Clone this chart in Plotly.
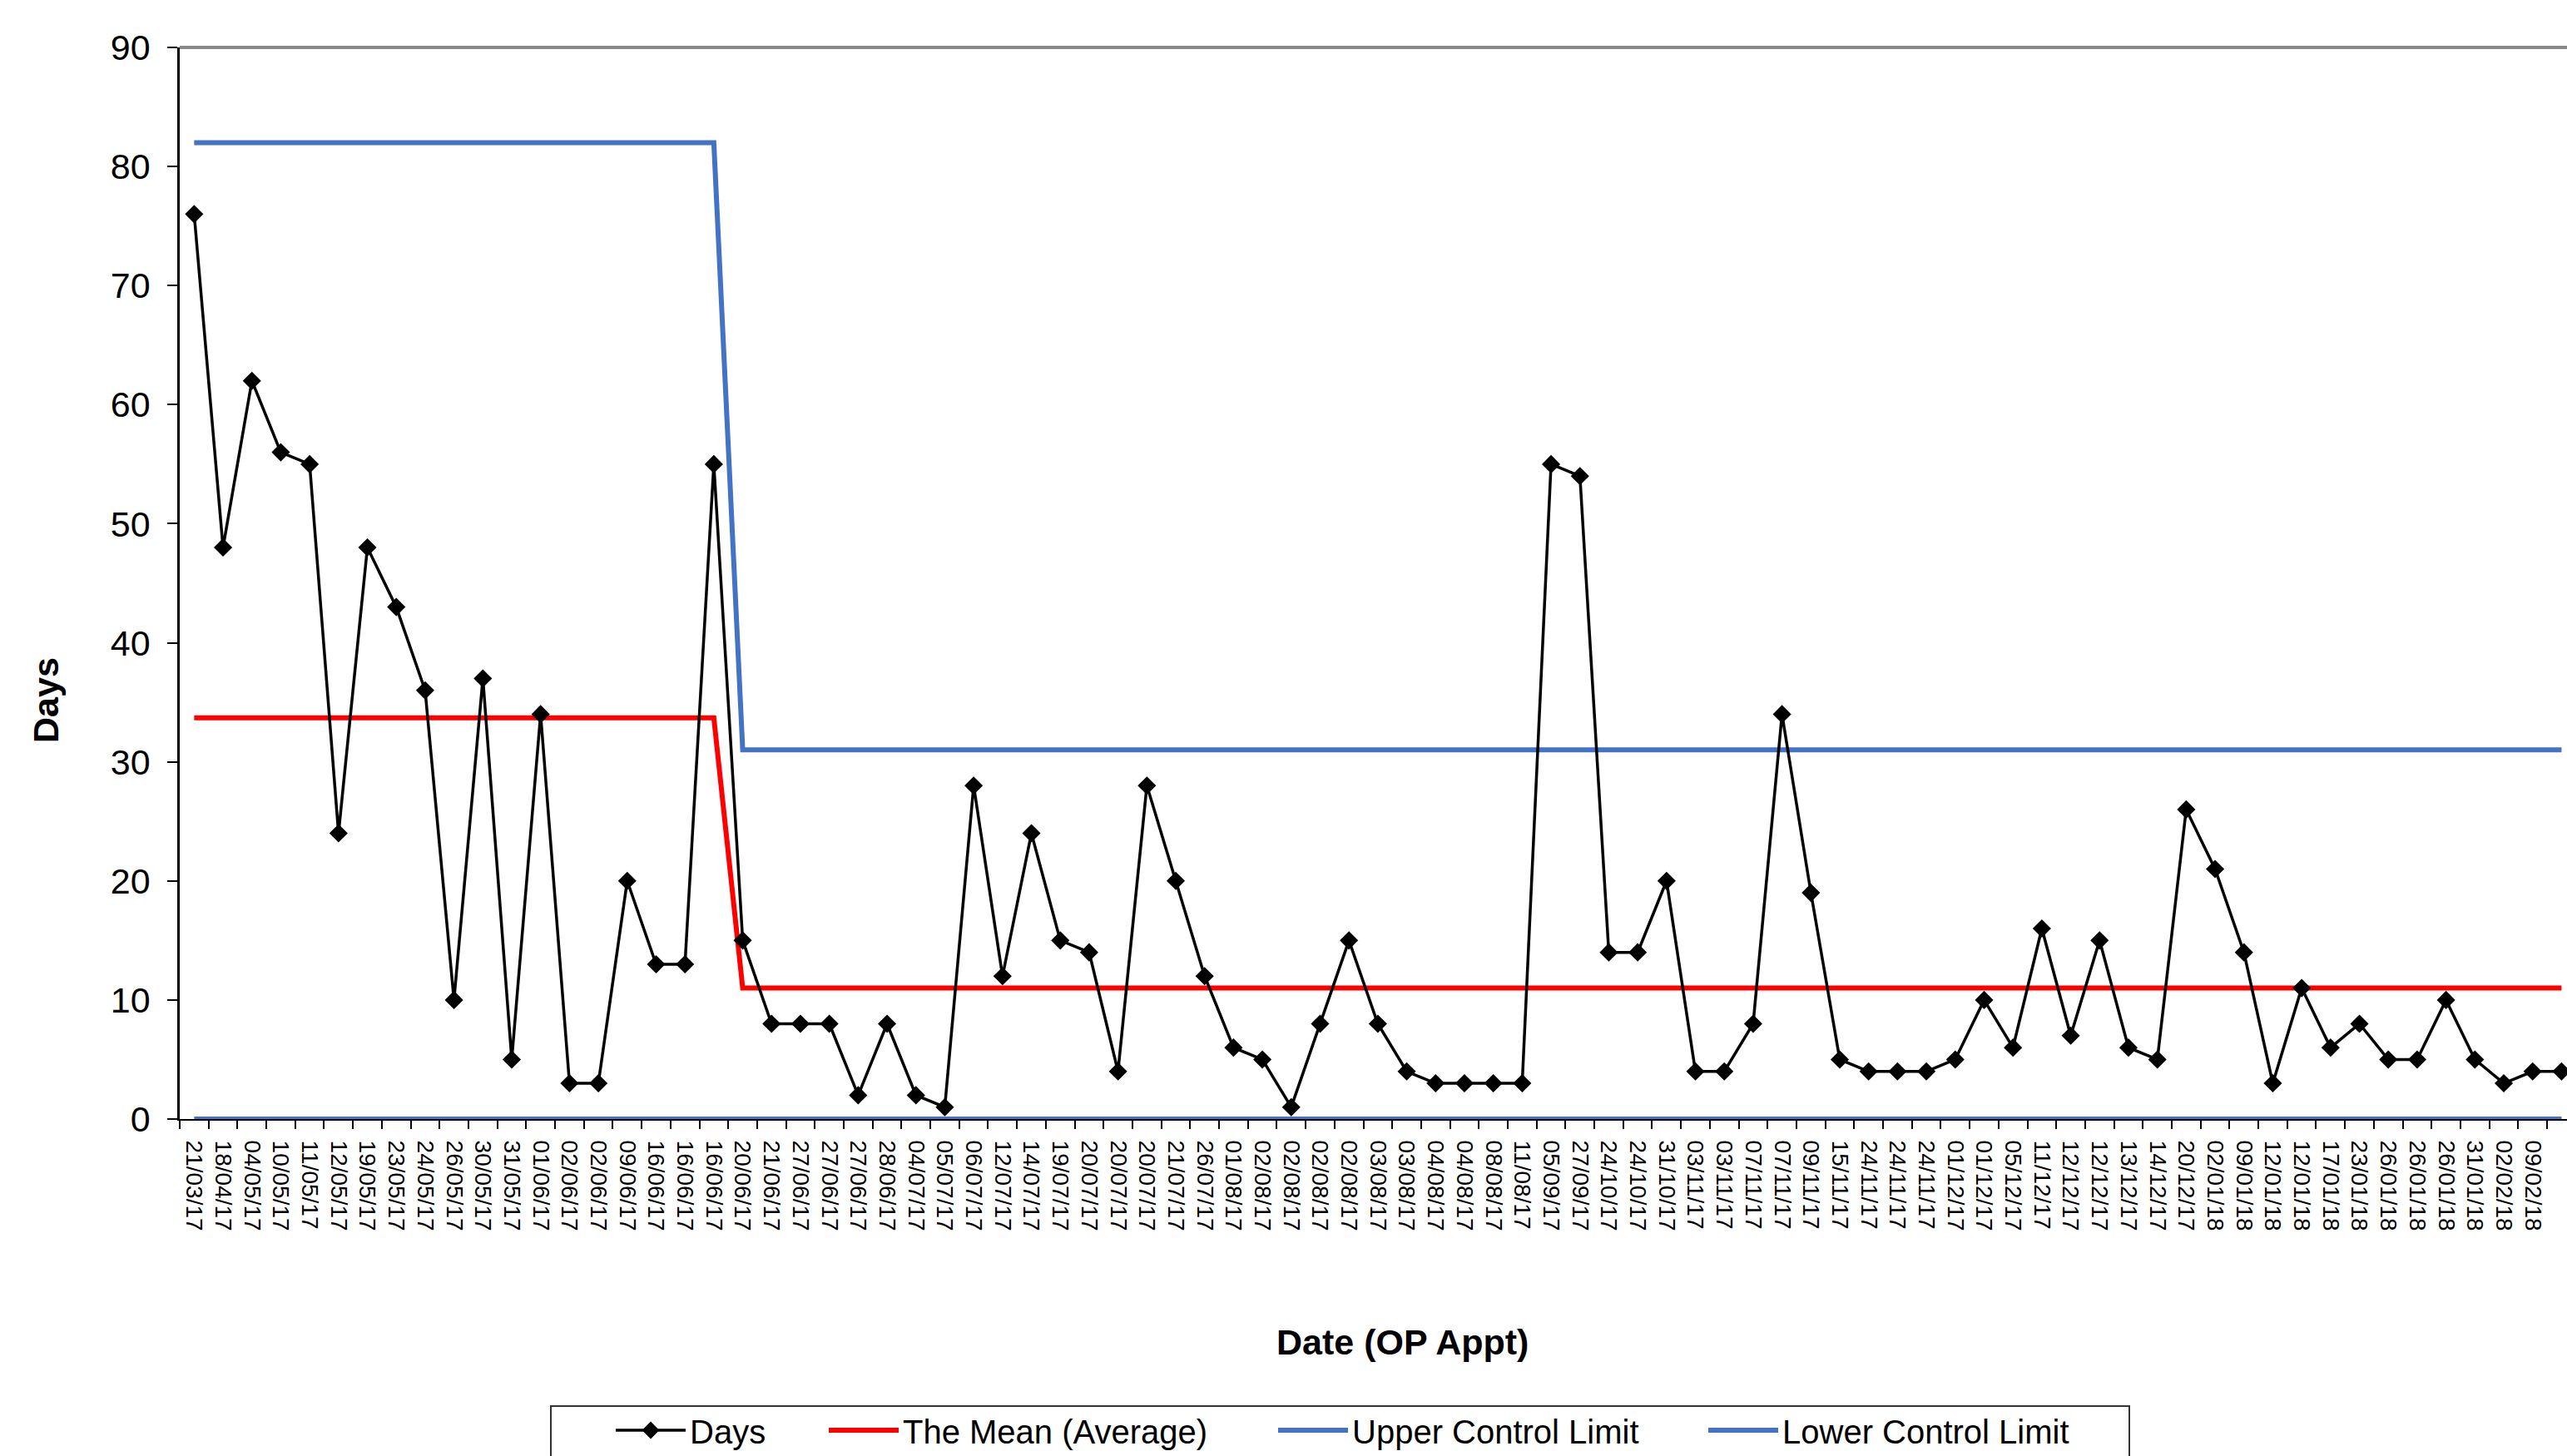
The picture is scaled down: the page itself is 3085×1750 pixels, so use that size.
import plotly.graph_objects as go

# ---- data ----
dates = ["21/03/17", "18/04/17", "04/05/17", "10/05/17", "11/05/17", "12/05/17", "19/05/17",
         "23/05/17", "24/05/17", "26/05/17", "30/05/17", "31/05/17", "01/06/17", "02/06/17",
         "02/06/17", "09/06/17", "16/06/17", "16/06/17", "16/06/17", "20/06/17", "21/06/17",
         "27/06/17", "27/06/17", "27/06/17", "28/06/17", "04/07/17", "05/07/17", "06/07/17",
         "12/07/17", "14/07/17", "19/07/17", "20/07/17", "20/07/17", "20/07/17", "21/07/17",
         "26/07/17", "01/08/17", "02/08/17", "02/08/17", "02/08/17", "02/08/17", "03/08/17",
         "03/08/17", "04/08/17", "04/08/17", "08/08/17", "11/08/17", "05/09/17", "27/09/17",
         "24/10/17", "24/10/17", "31/10/17", "03/11/17", "03/11/17", "07/11/17", "07/11/17",
         "09/11/17", "15/11/17", "24/11/17", "24/11/17", "24/11/17", "01/12/17", "01/12/17",
         "05/12/17", "11/12/17", "12/12/17", "12/12/17", "13/12/17", "14/12/17", "20/12/17",
         "02/01/18", "09/01/18", "12/01/18", "12/01/18", "17/01/18", "23/01/18", "26/01/18",
         "26/01/18", "26/01/18", "31/01/18", "02/02/18", "09/02/18", "09/02/18"]

days = [76, 48, 62, 56, 55, 24, 48, 43, 36, 10, 37, 5, 34, 3, 3, 20, 13, 13, 55,
        15, 8, 8, 8, 2, 8, 2, 1, 28, 12, 24, 15, 14, 4, 28, 20, 12, 6, 5, 1, 8,
        15, 8, 4, 3, 3, 3, 3, 55, 54, 14, 14, 20, 4, 4, 8, 34, 19, 5, 4, 4, 4,
        5, 10, 6, 16, 7, 15, 6, 5, 26, 21, 14, 3, 11, 6, 8, 5, 5, 10, 5, 3, 4, 4]

# control-chart phases (phase 1: first 19 points, phase 2: the rest)
phase_lengths = [19, 64]
mean_levels = [33.7, 11.0]
ucl_levels = [82.0, 31.0]
lcl_levels = [0.0, 0.0]

mean_vals, ucl_vals, lcl_vals = [], [], []
for n, m, u, l in zip(phase_lengths, mean_levels, ucl_levels, lcl_levels):
    mean_vals += [m] * n
    ucl_vals += [u] * n
    lcl_vals += [l] * n

idx = list(range(len(days)))

# ---- layout geometry (pixels of the 3085x1750 page) ----
W, H = 3085, 1750
L, R, T, B = 216, 0, 57, 405
PW, PH = W - L - R, H - T - B


def px_x(x):
    return (x - L) / PW


def px_y(y):
    return (H - B - y) / PH


FONT = "Arial, Liberation Sans, sans-serif"
BLUE = "#4472C4"

fig = go.Figure()
fig.add_trace(go.Scatter(x=idx, y=ucl_vals, mode="lines", name="Upper Control Limit",
                         line=dict(color=BLUE, width=6), legend="legend3"))
fig.add_trace(go.Scatter(x=idx, y=lcl_vals, mode="lines", name="Lower Control Limit",
                         line=dict(color=BLUE, width=6), legend="legend4"))
fig.add_trace(go.Scatter(x=idx, y=mean_vals, mode="lines", name="The Mean (Average)",
                         line=dict(color="#FF0000", width=6), legend="legend2"))
fig.add_trace(go.Scatter(x=idx, y=days, mode="lines+markers", name="Days",
                         line=dict(color="black", width=3.5),
                         marker=dict(symbol="diamond", size=17, color="black"),
                         legend="legend"))

leg_common = dict(orientation="h", font=dict(family=FONT, size=40, color="black"),
                  bgcolor="rgba(0,0,0,0)", borderwidth=0, itemwidth=84,
                  yanchor="middle", xanchor="left", y=px_y(1719))
fig.update_layout(
    legend=dict(x=px_x(735), **leg_common),
    legend2=dict(x=px_x(991), **leg_common),
    legend3=dict(x=px_x(1531), **leg_common),
    legend4=dict(x=px_x(2048), **leg_common),
)

fig.update_layout(
    width=W, height=H,
    margin=dict(l=L, r=R, t=T, b=B, autoexpand=False),
    paper_bgcolor="white", plot_bgcolor="white",
    showlegend=True,
    xaxis=dict(range=[-0.5, 82.19], tickmode="array", tickvals=idx, ticktext=dates,
               tickangle=90, tickfont=dict(family=FONT, size=28, color="black"),
               ticklabelstandoff=18, automargin=False,
               ticks="", showgrid=False, zeroline=False,
               showline=True, linecolor="black", linewidth=2, layer="below traces",
               minor=dict(tickmode="array", tickvals=[i - 0.5 for i in idx],
                          ticks="outside", ticklen=10, tickwidth=2, tickcolor="black",
                          showgrid=False)),
    yaxis=dict(range=[0, 90], dtick=10, tick0=0,
               tickfont=dict(family=FONT, size=43, color="black"),
               ticklabelstandoff=12, automargin=False,
               ticks="outside", ticklen=12, tickwidth=2, tickcolor="black",
               showgrid=False, zeroline=False, showline=True, linecolor="black",
               linewidth=2.5, layer="below traces"),
    shapes=[
        dict(type="line", xref="paper", yref="paper", x0=0, x1=1, y0=1, y1=1,
             line=dict(color="#888888", width=4)),
        dict(type="rect", xref="paper", yref="paper", x0=px_x(662), x1=px_x(2559),
             y0=px_y(1690), y1=px_y(1770), line=dict(color="#333333", width=2),
             fillcolor="rgba(0,0,0,0)"),
    ],
    annotations=[
        dict(text="<b>Date (OP Appt)</b>", xref="paper", yref="paper",
             x=px_x(1685), y=px_y(1613), showarrow=False,
             font=dict(family=FONT, size=43, color="black"),
             xanchor="center", yanchor="middle"),
        dict(text="<b>Days</b>", xref="paper", yref="paper",
             x=px_x(55), y=px_y(842), showarrow=False, textangle=-90,
             font=dict(family=FONT, size=43, color="black"),
             xanchor="center", yanchor="middle"),
    ],
)

fig.write_html("out.html", config={"displayModeBar": False},
               post_script="document.body.style.margin='0';document.body.style.overflow='hidden';")
